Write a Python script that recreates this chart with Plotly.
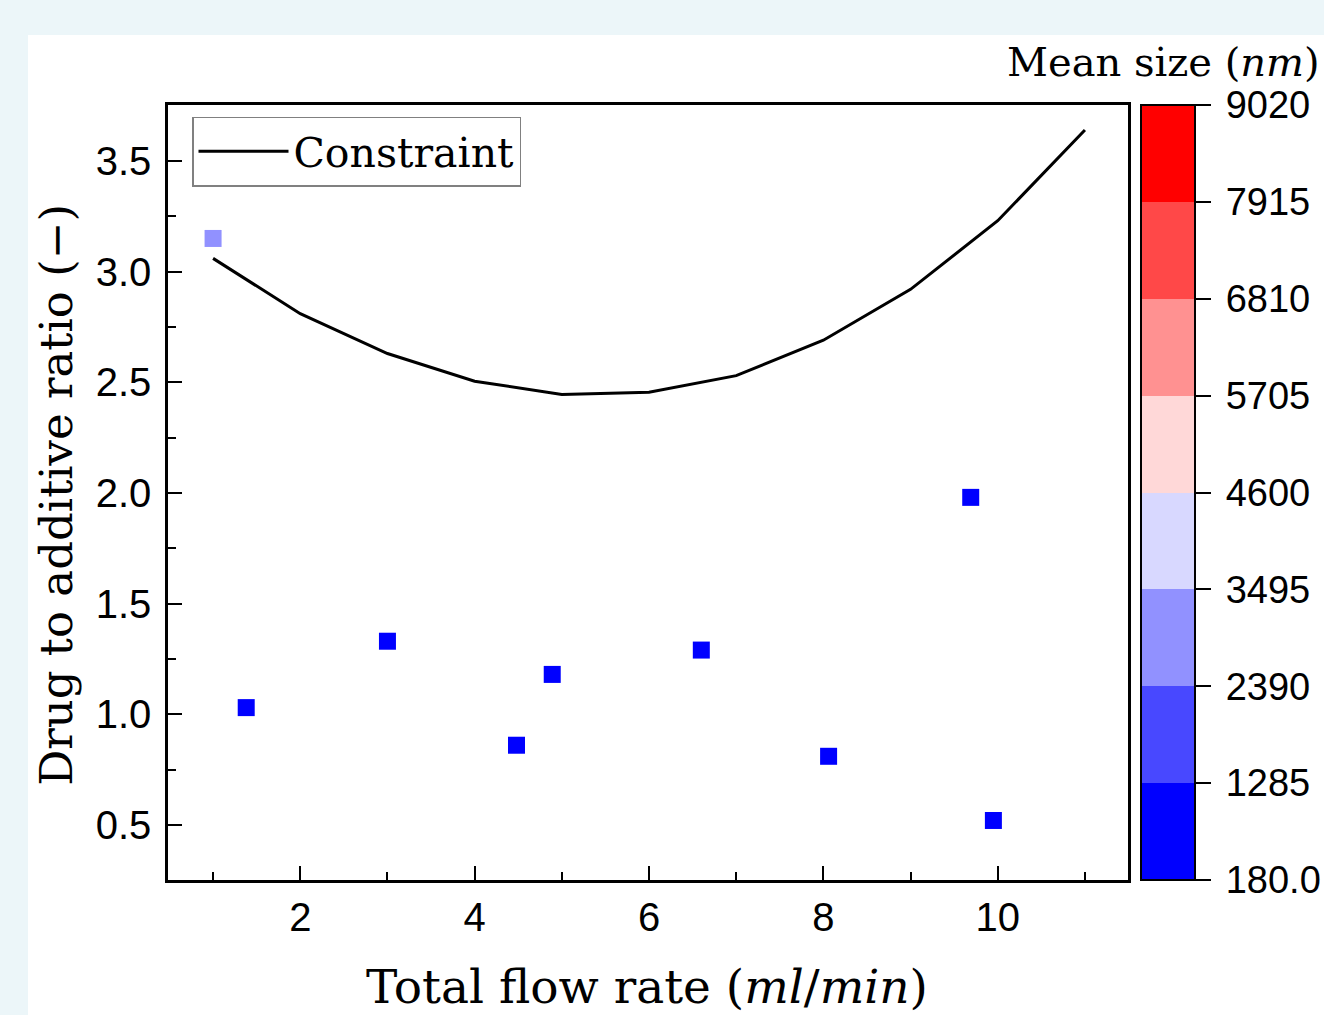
import plotly.graph_objects as go

# ---- data ----
flow_rate = [1.0, 1.38, 3.0, 4.48, 4.89, 6.6, 8.06, 9.69, 9.95]
ratio = [3.15, 1.03, 1.33, 0.86, 1.18, 1.29, 0.81, 1.98, 0.52]
mean_size = [2900, 420, 350, 300, 510, 280, 180, 640, 390]

constraint_x = [1, 2, 3, 4, 5, 6, 7, 8, 9, 10, 11]
constraint_y = [3.06, 2.81, 2.63, 2.505, 2.445, 2.455, 2.53, 2.69, 2.92, 3.23, 3.64]

cbar_ticks = [180, 1285, 2390, 3495, 4600, 5705, 6810, 7915, 9020]
cbar_ticktext = ["180.0", "1285", "2390", "3495", "4600", "5705", "6810", "7915", "9020"]
bin_colors = ["#0000ff", "#4848ff", "#9191ff", "#d8d8ff",
              "#ffd8d8", "#ff9191", "#ff4848", "#ff0000"]

# discrete colorscale
n = len(bin_colors)
colorscale = []
for i, c in enumerate(bin_colors):
    colorscale.append([i / n, c])
    colorscale.append([(i + 1) / n, c])

SERIF = "DejaVu Serif, serif"
SANS = "Liberation Sans, Arial, sans-serif"

fig = go.Figure()

fig.add_trace(go.Scatter(
    x=constraint_x, y=constraint_y, mode="lines",
    line=dict(color="black", width=3),
    name="Constraint", showlegend=True,
))

fig.add_trace(go.Scatter(
    x=flow_rate, y=ratio, mode="markers",
    marker=dict(
        symbol="square", size=17, color=mean_size,
        colorscale=colorscale, cmin=180, cmax=9020,
        line=dict(width=0),
        colorbar=dict(
            x=1.0135, xanchor="left", xref="paper",
            y=0.5, yanchor="middle", len=1.0, lenmode="fraction",
            thickness=54, thicknessmode="pixels",
            outlinecolor="black", outlinewidth=2,
            tickvals=cbar_ticks, ticktext=["\u2009" + t for t in cbar_ticktext],
            ticks="outside", ticklen=15, tickwidth=2, tickcolor="black",
            tickfont=dict(family=SANS, size=38, color="black"),
            bgcolor="rgba(0,0,0,0)", borderwidth=0, xpad=0, ypad=0,
        ),
    ),
    showlegend=False, name="Mean size",
))

fig.update_layout(
    width=1324, height=1015,
    margin=dict(l=168, r=196, t=105, b=135, autoexpand=False),
    paper_bgcolor="#ecf6f9",
    plot_bgcolor="white",
    showlegend=True,
    legend=dict(
        x=0.025, y=0.985, xanchor="left", yanchor="top",
        bgcolor="white", bordercolor="#808080", borderwidth=1.5,
        font=dict(family=SERIF, size=41, color="black"),
        itemwidth=90, tracegroupgap=0,
    ),
    shapes=[dict(
        type="rect", xref="paper", yref="paper",
        x0=-0.1458, x1=1.25, y0=-0.2, y1=1.0903,
        fillcolor="white", line=dict(width=0), layer="below",
    )],
    annotations=[
        dict(text="Total flow rate (<i>ml</i>/<i>min</i>)", xref="paper", yref="paper",
             x=0.499, y=-0.138, xanchor="center", yanchor="middle", showarrow=False,
             font=dict(family=SERIF, size=47, color="black")),
        dict(text="Drug to additive ratio (\u2212)", xref="paper", yref="paper",
             x=-0.1156, y=0.497, xanchor="center", yanchor="middle", showarrow=False,
             textangle=-90, font=dict(family=SERIF, size=45, color="black")),
        dict(text="Mean size (<i>nm</i>)", xref="paper", yref="paper",
             x=1.0365, y=1.0555, xanchor="center", yanchor="middle", showarrow=False,
             font=dict(family=SERIF, size=40, color="black")),
    ],
)

fig.update_xaxes(
    range=[0.483, 11.494], showgrid=False, zeroline=False,
    showline=True, linecolor="black", linewidth=2.5, mirror=True,
    tickvals=[2, 4, 6, 8, 10], ticks="inside", ticklen=14, tickwidth=2, tickcolor="black",
    minor=dict(tickvals=[1, 3, 5, 7, 9, 11], ticks="inside", ticklen=8, tickwidth=2, tickcolor="black"),
    tickfont=dict(family=SANS, size=40, color="black"),
    ticklabelstandoff=0,
)
fig.update_yaxes(
    range=[0.251, 3.753], showgrid=False, zeroline=False,
    showline=True, linecolor="black", linewidth=2.5, mirror=True,
    tickvals=[0.5, 1.0, 1.5, 2.0, 2.5, 3.0, 3.5], tickformat=".1f",
    ticks="inside", ticklen=14, tickwidth=2, tickcolor="black",
    minor=dict(tickvals=[0.25, 0.75, 1.25, 1.75, 2.25, 2.75, 3.25, 3.75],
               ticks="inside", ticklen=8, tickwidth=2, tickcolor="black"),
    tickfont=dict(family=SANS, size=40, color="black"),
    ticklabelstandoff=6,
)

fig.write_html(
    "out.html",
    config={"displayModeBar": False},
    post_script="document.body.style.margin='0';document.body.style.overflow='hidden';",
)
